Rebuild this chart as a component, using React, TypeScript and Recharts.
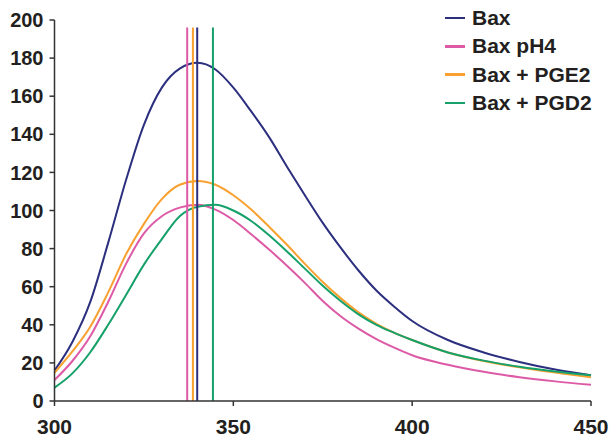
import { LineChart, Line, XAxis, YAxis, ReferenceLine } from 'recharts';

const wavelengths = [300, 305, 310, 315, 320, 325, 330, 335, 340, 345, 350, 355, 360, 365, 370, 375, 380, 385, 390, 395, 400, 410, 420, 430, 440, 450];
const bax = [16, 31, 52, 83, 116, 145, 164.5, 174.5, 177.5, 174, 164.5, 152, 138.5, 123, 108, 93.5, 80.5, 68.5, 58, 49.5, 42, 32, 25.5, 20.5, 16.5, 13.5];
const baxPH4 = [11, 21, 34, 52, 72, 88, 97, 101.5, 103, 100.5, 95, 87.5, 79.5, 71, 62, 52.5, 44.5, 38, 32.5, 28, 24, 19, 15.3, 12.5, 10.3, 8.5];
const baxPGE2 = [14.8, 26, 39, 57, 77, 93, 106, 113.5, 115.5, 113.5, 108, 100.5, 91.5, 82, 72, 62.5, 54, 46.5, 40.5, 35.8, 32, 25.5, 21, 17.7, 14.9, 12.5];
const baxPGD2 = [7, 14.5, 25.6, 40, 55.7, 71.6, 85, 97, 102, 103, 100, 94.5, 87, 78.5, 69.5, 60.5, 52.5, 45.5, 40, 35.8, 32, 25.5, 21.2, 18, 15.5, 13.5];

const seriesNames = ['Bax', 'Bax pH4', 'Bax + PGE2', 'Bax + PGD2'];
const seriesKeys = ['bax', 'ph4', 'pge2', 'pgd2'];
const seriesColors = ['#2b2f7e', '#dd5aa6', '#f8a030', '#16a06a'];
const peakX = [339.9, 337.1, 338.7, 344.3];
const peakTop = 196;

const xTicks = [300, 350, 400, 450];
const yTicks = [0, 20, 40, 60, 80, 100, 120, 140, 160, 180, 200];

const data = wavelengths.map((w, i) => ({
  w,
  bax: bax[i],
  ph4: baxPH4[i],
  pge2: baxPGE2[i],
  pgd2: baxPGD2[i],
}));

const FONT = '"Liberation Sans", Arial, sans-serif';

export default function App() {
  return (
    <div style={{ position: 'absolute', left: 0, top: 0, width: 609, height: 437, background: '#fff' }}>
      <LineChart width={609} height={437} data={data} margin={{ top: 20, right: 18, bottom: 0, left: 0 }}>
        <XAxis
          dataKey="w"
          type="number"
          domain={[300, 450]}
          ticks={xTicks}
          interval={0}
          height={36}
          tickSize={5}
          tickMargin={13}
          axisLine={{ stroke: '#333', strokeWidth: 1.5 }}
          tickLine={{ stroke: '#333', strokeWidth: 1.5 }}
          tick={{ fill: '#231f20', fontSize: 21, fontWeight: 'bold', fontFamily: FONT }}
        />
        <YAxis
          type="number"
          domain={[0, 200]}
          ticks={yTicks}
          interval={0}
          width={54.5}
          tickSize={5}
          tickMargin={6}
          axisLine={{ stroke: '#333', strokeWidth: 1.5 }}
          tickLine={{ stroke: '#333', strokeWidth: 1.5 }}
          tick={{ fill: '#231f20', fontSize: 20, fontWeight: 'bold', fontFamily: FONT }}
        />
        {seriesKeys.map((k, i) => (
          <Line
            key={k}
            type="monotone"
            dataKey={k}
            name={seriesNames[i]}
            stroke={seriesColors[i]}
            strokeWidth={2}
            dot={false}
            isAnimationActive={false}
          />
        ))}
        {peakX.map((x, i) => (
          <ReferenceLine
            key={i}
            segment={[{ x, y: 0 }, { x, y: peakTop }]}
            stroke={seriesColors[i]}
            strokeWidth={2}
          />
        ))}
      </LineChart>
      <div
        style={{
          position: 'absolute',
          left: 445,
          top: 4,
          fontFamily: FONT,
          fontWeight: 'bold',
          fontSize: 21,
          color: '#231f20',
        }}
      >
        {seriesNames.map((name, i) => (
          <div key={name} style={{ display: 'flex', alignItems: 'center', height: 28.3 }}>
            <span style={{ display: 'inline-block', width: 20, height: 2.5, background: seriesColors[i], marginRight: 7 }} />
            <span>{name}</span>
          </div>
        ))}
      </div>
    </div>
  );
}
